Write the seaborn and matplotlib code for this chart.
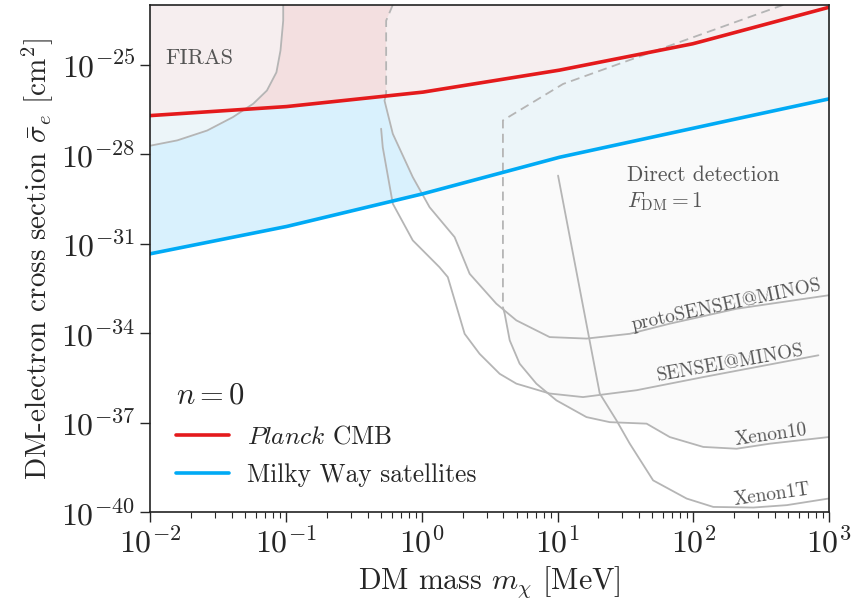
import numpy as np
import pandas as pd
import matplotlib
matplotlib.use("Agg")
import matplotlib.pyplot as plt
import seaborn as sns

# --- data (log10 values) ---
# Planck CMB and Milky Way satellite bounds, n = 0
mass_log = [-2, -1, 0, 1, 2, 3]
planck_log = [-26.71, -26.41, -25.93, -25.20, -24.30, -23.08]
mw_log = [-31.34, -30.43, -29.34, -28.12, -27.13, -26.15]

# FIRAS
firas_m = [-2.0, -1.99, -1.80, -1.58, -1.39, -1.24, -1.14, -1.07, -1.04, -1.02, -1.02]
firas_s = [-27.72, -27.71, -27.54, -27.21, -26.76, -26.31, -25.87, -25.26, -24.53, -23.53, -23.0]

# protoSENSEI@MINOS (dashed top + solid)
psm_dash_m = [-0.213, -0.262, -0.262]
psm_dash_s = [-23.0, -23.53, -25.98]
psm_m = [-0.262, -0.274, -0.213, -0.066, 0.058, 0.242, 0.353, 0.549, 0.697, 0.942, 1.213, 1.532, 1.827, 2.319, 2.995]
psm_s = [-25.98, -26.21, -27.32, -28.77, -29.78, -30.78, -32.01, -33.01, -33.57, -34.13, -34.18, -34.02, -33.68, -33.18, -32.73]

# SENSEI@MINOS
sm_m = [-0.299, -0.287, -0.213, -0.066, 0.131, 0.192, 0.316, 0.426, 0.574, 0.697, 0.942, 1.188, 1.582, 2.073, 2.921]
sm_s = [-27.15, -27.77, -29.66, -30.89, -31.79, -32.12, -34.02, -34.69, -35.36, -35.69, -36.02, -36.14, -35.91, -35.47, -34.74]

# Xenon10 (dashed top + solid)
x10_dash_m = [2.663, 1.041, 0.598, 0.598]
x10_dash_s = [-23.0, -25.65, -26.87, -33.13]
x10_m = [0.598, 0.611, 0.648, 0.721, 0.844, 0.992, 1.213, 1.385, 1.656, 1.827, 2.073, 2.319, 2.565, 2.995]
x10_s = [-33.13, -33.35, -34.24, -35.02, -35.69, -36.25, -36.81, -36.98, -37.03, -37.48, -37.81, -37.87, -37.70, -37.48]

# Xenon1T
x1t_m = [1.004, 1.311, 1.434, 1.532, 1.704, 1.951, 2.147, 2.442, 2.688, 2.995]
x1t_s = [-28.72, -36.02, -36.92, -37.70, -38.93, -39.54, -39.82, -39.84, -39.76, -39.54]

YTOP = 1e-23
GRAY = "#b5b5b5"

sns.set_theme(style="ticks")
plt.rcParams["font.family"] = ["cmr10", "DejaVu Serif"]
plt.rcParams["mathtext.fontset"] = "cm"
plt.rcParams["axes.formatter.use_mathtext"] = True
plt.rcParams["axes.unicode_minus"] = False

fig, ax = plt.subplots(figsize=(8.53, 6.07), dpi=100)
fig.subplots_adjust(left=0.176, right=0.972, bottom=0.156, top=0.992)

p = lambda v: 10 ** np.asarray(v, dtype=float)

# fills
grid = np.linspace(-2, 3, 200)
red_g = np.interp(grid, mass_log, planck_log)
blue_g = np.interp(grid, mass_log, mw_log)
ax.fill_between(p(grid), p(blue_g), p(red_g), color="#d9f1fd", lw=0, zorder=1)
ax.fill_between(p(grid), p(red_g), YTOP, color="#f3dfe0", lw=0, zorder=1)

over = dict(color="#f8f8f8", alpha=0.64, lw=0, zorder=2)
ax.fill(p([-2.0] + firas_m + [-2.0]), p([firas_s[0]] + firas_s + [-23.0]), **over)

# direct detection envelope: protoSENSEI until it meets Xenon10, then Xenon10
cut = 8
dd_m = psm_dash_m + psm_m[1:cut] + [0.598] + x10_m[1:] + [3.0, -0.213]
dd_s = psm_dash_s + psm_s[1:cut] + [-33.13] + x10_s[1:] + [-23.0, -23.0]
ax.fill(p(dd_m), p(dd_s), **over)

# gray limit curves
curves = pd.concat([
    pd.DataFrame({"m": p(firas_m), "s": p(firas_s), "name": "FIRAS"}),
    pd.DataFrame({"m": p(psm_m), "s": p(psm_s), "name": "protoSENSEI@MINOS"}),
    pd.DataFrame({"m": p(sm_m), "s": p(sm_s), "name": "SENSEI@MINOS"}),
    pd.DataFrame({"m": p(x10_m), "s": p(x10_s), "name": "Xenon10"}),
    pd.DataFrame({"m": p(x1t_m), "s": p(x1t_s), "name": "Xenon1T"}),
])
for name, d in curves.groupby("name", sort=False):
    ax.plot(d["m"], d["s"], color=GRAY, lw=1.3, zorder=3)
ax.plot(p(psm_dash_m), p(psm_dash_s), color=GRAY, lw=1.3, ls=(0, (5, 3)), zorder=3)
ax.plot(p(x10_dash_m), p(x10_dash_s), color=GRAY, lw=1.3, ls=(0, (5, 3)), zorder=3)

# main bounds
bound_grid = pd.DataFrame({
    "m": np.concatenate([p(grid), p(grid)]),
    "s": np.concatenate([p(red_g), p(blue_g)]),
    "bound": [r"$\mathit{Planck}$ CMB"] * len(grid) + ["Milky Way satellites"] * len(grid),
})
sns.lineplot(data=bound_grid, x="m", y="s", hue="bound",
             palette=["#e41a1c", "#00aaf5"], lw=2.6, ax=ax, zorder=5, sort=False)

ax.set_xscale("log")
ax.set_yscale("log")
ax.set_xlim(1e-2, 1e3)
ax.set_ylim(1e-40, YTOP)
ax.set_yticks([1e-40, 1e-37, 1e-34, 1e-31, 1e-28, 1e-25])
ax.yaxis.set_minor_locator(matplotlib.ticker.NullLocator())
ax.tick_params(axis="both", which="major", labelsize=23, length=7, width=1, direction="out")
ax.tick_params(axis="x", which="minor", length=4, width=0.8, direction="out")
for sp in ax.spines.values():
    sp.set_linewidth(1.2)
    sp.set_color("#222222")
    sp.set_zorder(10)

ax.set_xlabel(r"DM mass $m_\chi$ [MeV]", fontsize=21.5, labelpad=4)
ax.set_ylabel(r"DM-electron cross section $\bar{\sigma}_e$ [cm$^2$]", fontsize=21, labelpad=4)

# annotations
tc = "#555555"
ax.text(10 ** -1.89, 10 ** -24.8, "FIRAS", fontsize=16, color=tc, va="center")
ax.text(10 ** 1.51, 10 ** -28.9, "Direct detection", fontsize=15.5, color=tc)
ax.text(10 ** 1.51, 10 ** -29.8, r"$F_{\rm DM} = 1$", fontsize=15.5, color=tc)
ax.text(10 ** 2.245, 10 ** -33.07, "protoSENSEI@MINOS", fontsize=13.8, color=tc,
        rotation=12, ha="center", va="center")
ax.text(10 ** 2.275, 10 ** -35.02, "SENSEI@MINOS", fontsize=13.8, color=tc,
        rotation=10, ha="center", va="center")
ax.text(10 ** 2.57, 10 ** -37.40, "Xenon10", fontsize=13.8, color=tc,
        rotation=8, ha="center", va="center")
ax.text(10 ** 2.58, 10 ** -39.41, "Xenon1T", fontsize=13.8, color=tc,
        rotation=8, ha="center", va="center")

leg = ax.legend(title=r"$n = 0$", loc="lower left", frameon=False, fontsize=18.3,
                title_fontsize=22, handlelength=2.1, handletextpad=0.7,
                borderaxespad=0.6, labelspacing=0.58,
                bbox_to_anchor=(0.0, 0.0))
leg._legend_box.align = "left"
leg.set_zorder(20)

fig.savefig("out.png", dpi=100)
